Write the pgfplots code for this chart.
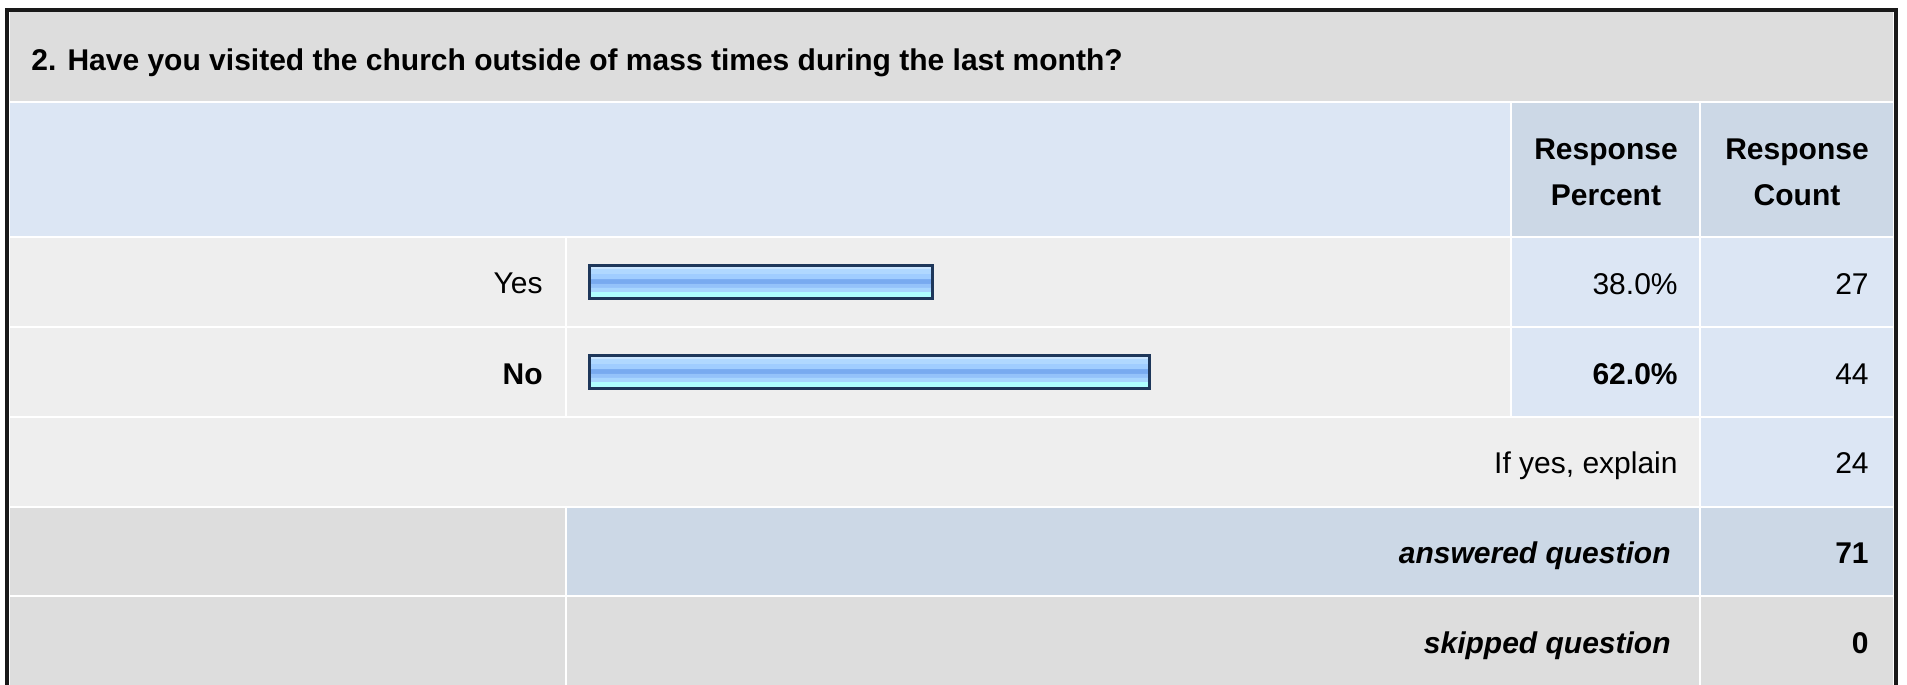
\documentclass[border=0pt]{standalone}
\usepackage{fontspec}
\setmainfont{Liberation Sans}
\usepackage{pgfplots}
\pgfplotsset{compat=1.18}
\definecolor{titlegray}{HTML}{DDDDDD}
\definecolor{rowgray}{HTML}{EEEEEE}
\definecolor{lightblue}{HTML}{DCE6F4}
\definecolor{midblue}{HTML}{CCD8E6}
\definecolor{barborder}{HTML}{1E375A}
\definecolor{bsA}{HTML}{CBE6FF}
\definecolor{bsB}{HTML}{B0D8FF}
\definecolor{bsC}{HTML}{A0CDFF}
\definecolor{bsD}{HTML}{78AAF0}
\definecolor{bsE}{HTML}{94C2FA}
\definecolor{bsF}{HTML}{A8D6FF}
\definecolor{bsG}{HTML}{B0FFFF}
\pgfdeclareverticalshading{barshade}{100bp}{color(0bp)=(bsG); color(25bp)=(bsG); color(35bp)=(bsG); color(35.5bp)=(bsF); color(42bp)=(bsF); color(42.5bp)=(bsE); color(48bp)=(bsE); color(48.5bp)=(bsD); color(54.5bp)=(bsD); color(55bp)=(bsC); color(63bp)=(bsC); color(63.5bp)=(bsB); color(70bp)=(bsB); color(70.5bp)=(bsA); color(75bp)=(bsA); color(100bp)=(bsA)}
\newcommand{\tf}{\fontsize{15}{18}\selectfont}
\begin{document}
\begin{tikzpicture}
\begin{axis}[
  x=0.5pt, y=0.5pt, y dir=reverse,
  xmin=0, xmax=1907, ymin=0, ymax=685,
  hide axis, clip=false, enlargelimits=false,
]
% background and outer frame
\fill[white] (axis cs:0,0) rectangle (axis cs:1907,685);
\fill[black!90] (axis cs:5,8) rectangle (axis cs:1898,685);
\fill[white] (axis cs:9,12) rectangle (axis cs:1894,685);
% title row
\fill[titlegray] (axis cs:10,12) rectangle (axis cs:1893,101);
% header row
\fill[lightblue] (axis cs:10,103) rectangle (axis cs:1510,236);
\fill[midblue] (axis cs:1512,103) rectangle (axis cs:1699,236);
\fill[midblue] (axis cs:1701,103) rectangle (axis cs:1893,236);
% yes row
\fill[rowgray] (axis cs:10,238) rectangle (axis cs:565,326);
\fill[rowgray] (axis cs:567,238) rectangle (axis cs:1510,326);
\fill[lightblue] (axis cs:1512,238) rectangle (axis cs:1699,326);
\fill[lightblue] (axis cs:1701,238) rectangle (axis cs:1893,326);
% no row
\fill[rowgray] (axis cs:10,328) rectangle (axis cs:565,416);
\fill[rowgray] (axis cs:567,328) rectangle (axis cs:1510,416);
\fill[lightblue] (axis cs:1512,328) rectangle (axis cs:1699,416);
\fill[lightblue] (axis cs:1701,328) rectangle (axis cs:1893,416);
% if yes row
\fill[rowgray] (axis cs:10,418) rectangle (axis cs:1699,506);
\fill[lightblue] (axis cs:1701,418) rectangle (axis cs:1893,506);
% answered row
\fill[titlegray] (axis cs:10,508) rectangle (axis cs:565,595);
\fill[midblue] (axis cs:567,508) rectangle (axis cs:1699,595);
\fill[midblue] (axis cs:1701,508) rectangle (axis cs:1893,595);
% skipped row
\fill[titlegray] (axis cs:10,597) rectangle (axis cs:565,685);
\fill[titlegray] (axis cs:567,597) rectangle (axis cs:1699,685);
\fill[titlegray] (axis cs:1701,597) rectangle (axis cs:1893,685);
% texts
\node[anchor=base west, inner sep=0pt, font=\tf\bfseries] at (axis cs:31,70) {2. Have you visited the church outside of mass times during the last month?};
\node[anchor=base, inner sep=0pt, font=\tf\bfseries] at (axis cs:1606,159) {Response};
\node[anchor=base, inner sep=0pt, font=\tf\bfseries] at (axis cs:1606,205) {Percent};
\node[anchor=base, inner sep=0pt, font=\tf\bfseries] at (axis cs:1797,159) {Response};
\node[anchor=base, inner sep=0pt, font=\tf\bfseries] at (axis cs:1797,205) {Count};
\node[anchor=base east, inner sep=0pt, font=\tf] at (axis cs:543,293) {Yes};
\node[anchor=base east, inner sep=0pt, font=\tf\bfseries] at (axis cs:543,384) {No};
\node[anchor=base east, inner sep=0pt, font=\tf] at (axis cs:1678,294) {38.0\%};
\node[anchor=base east, inner sep=0pt, font=\tf] at (axis cs:1869,294) {27};
\node[anchor=base east, inner sep=0pt, font=\tf\bfseries] at (axis cs:1678,384) {62.0\%};
\node[anchor=base east, inner sep=0pt, font=\tf] at (axis cs:1869,384) {44};
\node[anchor=base east, inner sep=0pt, font=\tf] at (axis cs:1678,473) {If yes, explain};
\node[anchor=base east, inner sep=0pt, font=\tf] at (axis cs:1869,473) {24};
\node[anchor=base east, inner sep=0pt, font=\tf\bfseries\itshape] at (axis cs:1671,563) {answered question};
\node[anchor=base east, inner sep=0pt, font=\tf\bfseries] at (axis cs:1869,563) {71};
\node[anchor=base east, inner sep=0pt, font=\tf\bfseries\itshape] at (axis cs:1671,653) {skipped question};
\node[anchor=base east, inner sep=0pt, font=\tf\bfseries] at (axis cs:1869,653) {0};
\end{axis}
\begin{axis}[
  at={(294.75pt,134pt)}, anchor=south west,
  width=451.5pt, height=90pt, scale only axis,
  xmin=0, xmax=100, ymin=-0.5, ymax=1.5, y dir=reverse,
  hide axis, clip=false, enlargelimits=false,
]
\addplot[xbar, bar width=16.5pt, draw=barborder, line width=1.5pt, shade, shading=barshade]
  coordinates {(38,0)};
\addplot[xbar, bar width=16.5pt, draw=barborder, line width=1.5pt, shade, shading=barshade]
  coordinates {(62,1)};
\end{axis}
\end{tikzpicture}
\end{document}
